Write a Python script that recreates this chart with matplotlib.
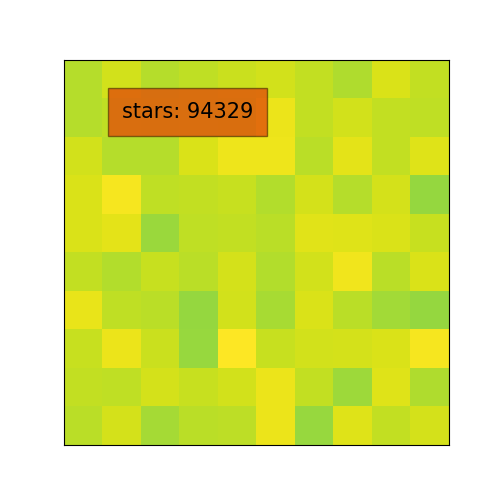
import numpy as np
import matplotlib
matplotlib.use("Agg")
import matplotlib.pyplot as plt

# normalized star values per cell (viridis, 0..1)
row0 = [0.89, 0.93, 0.89, 0.905, 0.92, 0.93, 0.91, 0.88, 0.945, 0.91]
row1 = [0.89, 0.905, 0.895, 0.905, 0.91, 0.97, 0.91, 0.93, 0.91, 0.905]
row2 = [0.93, 0.89, 0.89, 0.945, 0.975, 0.975, 0.895, 0.96, 0.91, 0.95]
row3 = [0.945, 0.985, 0.905, 0.908, 0.915, 0.885, 0.935, 0.89, 0.935, 0.84]
row4 = [0.945, 0.96, 0.85, 0.905, 0.91, 0.895, 0.955, 0.95, 0.945, 0.915]
row5 = [0.91, 0.885, 0.915, 0.895, 0.935, 0.885, 0.93, 0.98, 0.895, 0.945]
row6 = [0.965, 0.905, 0.895, 0.84, 0.93, 0.87, 0.945, 0.895, 0.86, 0.84]
row7 = [0.915, 0.97, 0.92, 0.845, 1.0, 0.915, 0.93, 0.935, 0.945, 0.985]
row8 = [0.91, 0.905, 0.935, 0.915, 0.93, 0.97, 0.91, 0.852, 0.952, 0.88]
row9 = [0.895, 0.935, 0.865, 0.895, 0.9, 0.97, 0.845, 0.952, 0.91, 0.935]

stars_label = "stars: 94329"

grid = np.array([row0, row1, row2, row3, row4, row5, row6, row7, row8, row9])

fig, ax = plt.subplots(figsize=(5, 5), dpi=100)
ax.imshow(grid, cmap="viridis", vmin=0, vmax=1)
ax.set_xticks([])
ax.set_yticks([])

# orange label box, slightly see-through, soft brown edge
ax.text(0.15, 0.85, stars_label, transform=ax.transAxes, fontsize=15,
        bbox=dict(facecolor=(0.88, 0.32, 0.04, 0.8),
                  edgecolor=(0.25, 0.15, 0.0, 0.6), pad=10))

plt.savefig("out.png")
